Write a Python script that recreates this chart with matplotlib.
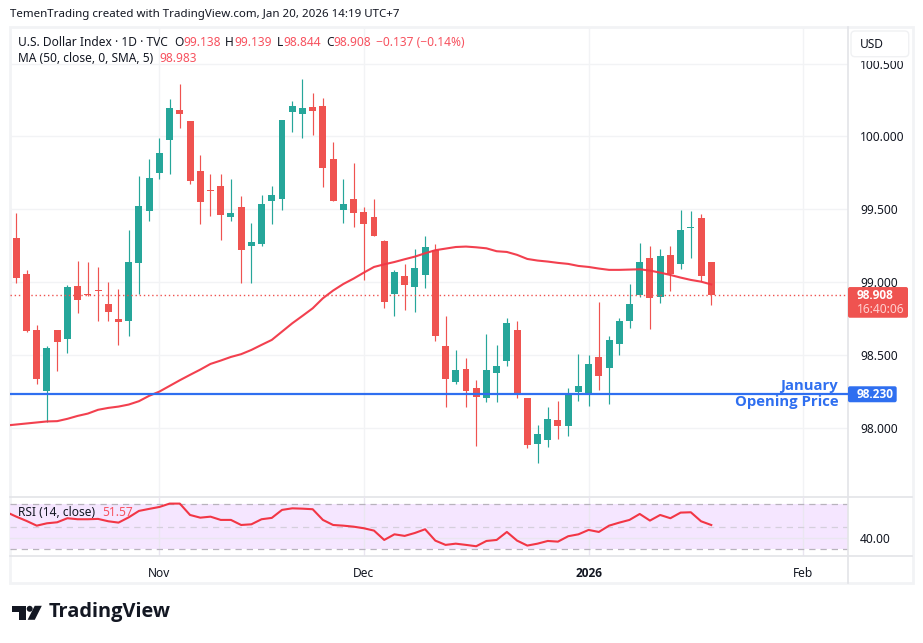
import matplotlib
matplotlib.use("Agg")
import matplotlib.pyplot as plt
import numpy as np
from matplotlib.lines import Line2D
from matplotlib.patches import Circle, FancyBboxPatch, Polygon, Rectangle
from matplotlib.transforms import IdentityTransform

plt.rcParams['font.family'] = ['Noto Sans', 'DejaVu Sans']

# daily candles, Oct 14 2025 - Jan 20 2026
opens = [99.302, 99.055, 98.671, 98.252, 98.671, 98.609, 98.973, 98.918, 98.945, 98.849,
         98.746, 98.732, 99.131, 99.488, 99.748, 99.975, 100.181, 100.105, 99.762, 99.632,
         99.659, 99.446, 99.515, 99.247, 99.261, 99.556, 99.570, 100.167, 100.153, 100.201,
         100.208, 99.844, 99.494, 99.570, 99.481, 99.446, 99.282, 98.918, 99.041, 98.966,
         99.048, 99.220, 98.561, 98.314, 98.403, 98.273, 98.204, 98.376, 98.458, 98.671,
         98.204, 97.888, 97.916, 98.053, 98.012, 98.245, 98.231, 98.485, 98.410, 98.575,
         98.732, 98.911, 99.165, 98.897, 99.186, 99.124, 99.371, 99.439, 99.138]
highs = [99.474, 99.083, 98.705, 98.561, 98.671, 98.980, 99.144, 99.137, 99.103, 99.000,
         98.952, 99.357, 99.728, 99.844, 99.989, 100.256, 100.359, 100.105, 99.872, 99.742,
         99.742, 99.707, 99.590, 99.405, 99.597, 99.659, 100.112, 100.243, 100.394, 100.297,
         100.263, 99.961, 99.707, 99.817, 99.515, 99.570, 99.288, 99.083, 99.124, 99.227,
         99.316, 99.261, 98.767, 98.533, 98.479, 98.328, 98.643, 98.568, 98.753, 98.732,
         98.204, 98.019, 98.142, 98.183, 98.273, 98.506, 98.499, 98.863, 98.630, 98.753,
         98.986, 99.268, 99.247, 99.227, 99.247, 99.494, 99.488, 99.467, 99.139]
lows = [98.993, 98.657, 98.300, 98.035, 98.389, 98.513, 98.787, 98.904, 98.732, 98.732,
        98.568, 98.630, 98.918, 99.419, 99.707, 99.742, 100.057, 99.673, 99.398, 99.453,
        99.288, 99.419, 98.993, 98.993, 99.247, 99.398, 99.494, 100.030, 99.989, 100.009,
        99.652, 99.556, 99.405, 99.378, 99.014, 99.316, 98.822, 98.767, 98.808, 98.794,
        98.959, 98.595, 98.142, 98.300, 98.142, 97.874, 98.176, 98.176, 98.424, 98.204,
        97.861, 97.758, 97.868, 97.923, 97.943, 98.183, 98.149, 98.259, 98.163, 98.499,
        98.684, 98.897, 98.678, 98.856, 98.938, 99.089, 99.165, 99.007, 98.844]
closes = [99.028, 98.664, 98.334, 98.547, 98.588, 98.966, 98.877, 98.909, 98.938, 98.794,
          98.726, 99.137, 99.522, 99.714, 99.886, 100.195, 100.153, 99.693, 99.549, 99.625,
          99.460, 99.474, 99.220, 99.275, 99.536, 99.597, 100.112, 100.208, 100.195, 100.174,
          99.783, 99.556, 99.536, 99.474, 99.398, 99.316, 98.863, 99.069, 98.980, 99.096,
          99.240, 98.630, 98.334, 98.396, 98.252, 98.211, 98.396, 98.424, 98.719, 98.231,
          97.881, 97.957, 98.060, 98.012, 98.231, 98.286, 98.437, 98.355, 98.602, 98.732,
          98.849, 99.137, 98.890, 99.179, 99.055, 99.357, 99.378, 99.041, 98.908]

# MA 50, first value belongs to the bar before the first visible candle
ma50 = [98.014, 98.021, 98.028, 98.035, 98.042, 98.044, 98.060, 98.080, 98.096, 98.122,
        98.135, 98.144, 98.158, 98.181, 98.218, 98.247, 98.286, 98.325, 98.362, 98.398,
        98.437, 98.460, 98.485, 98.504, 98.533, 98.568, 98.602, 98.659, 98.716, 98.767,
        98.819, 98.888, 98.941, 98.986, 99.023, 99.064, 99.103, 99.121, 99.137, 99.156,
        99.174, 99.197, 99.218, 99.229, 99.240, 99.243, 99.238, 99.231, 99.211, 99.206,
        99.186, 99.158, 99.147, 99.140, 99.131, 99.124, 99.110, 99.103, 99.092, 99.083,
        99.083, 99.085, 99.087, 99.078, 99.064, 99.048, 99.030, 99.014, 99.002, 98.983]

rsi14 = [63.2, 59.0, 55.2, 51.0, 53.1, 54.0, 57.6, 56.7, 56.7, 57.0,
         54.9, 53.7, 58.4, 64.1, 65.9, 67.6, 70.6, 70.6, 60.5, 58.1,
         59.0, 56.1, 56.1, 51.6, 52.2, 56.7, 57.9, 65.0, 66.4, 66.1,
         65.6, 56.1, 51.6, 51.0, 50.1, 48.7, 46.6, 38.3, 43.3, 41.9,
         44.5, 47.8, 37.7, 33.9, 35.0, 33.9, 32.7, 37.4, 38.3, 45.4,
         37.7, 33.3, 35.0, 37.4, 36.8, 41.6, 43.3, 47.2, 45.4, 51.0,
         53.7, 56.1, 61.4, 55.5, 60.5, 57.6, 62.6, 62.9, 54.9, 51.57]

price_ticks = [98.0, 98.5, 99.0, 99.5, 100.0, 100.5]
date_ticks = [14, 34, 56, 77]
date_labels = ['Nov', 'Dec', '2026', 'Feb']
january_open = 98.230
last_close = 98.908

UP = '#26A69A'
DOWN = '#EF5350'
MA_RED = '#F23645'
BLUE = '#2F6FF0'
TXT = '#131722'
GRID = '#F2F3F5'
EDGE = '#E3E4E8'
W, H = 923, 643


def rect(left, top, right, bottom):
    return [left / W, 1 - bottom / H, (right - left) / W, (bottom - top) / H]


def label(x, y, s, **kw):
    kw.setdefault('color', TXT)
    kw.setdefault('fontsize', 8.6)
    kw.setdefault('va', 'center')
    return fig.text(x / W, 1 - y / H, s, **kw)


fig = plt.figure(figsize=(W / 100, H / 100), dpi=100, facecolor='white')
ax = fig.add_axes(rect(10.3, 27, 847.7, 497.3))
ax2 = fig.add_axes(rect(10.3, 497.3, 847.7, 555.7))
xlim = (-0.587, 81.35)

x = np.arange(len(closes))
o, h, l, c = map(np.array, (opens, highs, lows, closes))
colors = [UP if cc >= oo else DOWN for oo, cc in zip(o, c)]

ax.vlines(x, l, h, colors=colors, lw=0.85, zorder=3)
ax.bar(x, np.abs(c - o), bottom=np.minimum(o, c), width=0.68, color=colors, linewidth=0, zorder=3)
ax.plot(np.arange(-1, len(closes)), ma50, color=MA_RED, lw=1.5, alpha=0.95, zorder=4)
ax.axhline(january_open, color=BLUE, lw=1.6, zorder=5)
ax.axhline(last_close, color=DOWN, lw=1.0, ls=(0, (1, 2)), zorder=5)

ax.set_xlim(xlim)
ax.set_ylim(97.521, 100.751)
ax.yaxis.tick_right()
ax.set_yticks(price_ticks)
ax.set_yticklabels(['%.3f' % t for t in price_ticks])
ax.set_xticks(date_ticks)
ax.tick_params(axis='x', labelbottom=False, length=0)
ax.tick_params(axis='y', length=0, pad=9, labelsize=8.6, labelcolor=TXT)
ax.grid(True, color=GRID, lw=1.0)
ax.set_axisbelow(True)

ax.text(80.43, 98.285, 'January', color=BLUE, fontsize=10.7, fontweight='bold', family='Open Sans',
        ha='right', va='center', zorder=6)
ax.text(80.43, 98.173, 'Opening Price', color=BLUE, fontsize=10.7, fontweight='bold', family='Open Sans',
        ha='right', va='center', zorder=6)

# RSI pane
ax2.axhspan(30, 70, color='#F5E6FF', lw=0, zorder=0)
for level, col in ((70, '#B8B3BD'), (50, '#D5CFDC'), (30, '#B8B3BD')):
    ax2.axhline(level, color=col, lw=0.9, ls=(0, (5, 4)), zorder=1)
ax2.plot(np.arange(-1, len(closes)), rsi14, color=MA_RED, lw=1.5, zorder=3)
ax2.set_xlim(xlim)
ax2.set_ylim(24.3, 76.2)
ax2.yaxis.tick_right()
ax2.set_yticks([40])
ax2.set_yticklabels(['40.00'])
ax2.set_xticks(date_ticks)
ax2.set_xticklabels(date_labels)
ax2.tick_params(axis='x', length=0, pad=8, labelsize=8.6, labelcolor=TXT)
ax2.tick_params(axis='y', length=0, pad=9, labelsize=8.6, labelcolor=TXT)
tick_2026 = ax2.get_xticklabels()[2]
tick_2026.set_fontfamily('Open Sans')
tick_2026.set_fontweight('bold')
ax2.grid(True, color='#EAE6F0', lw=1.0)
ax2.set_axisbelow(True)

for a in (ax, ax2):
    a.patch.set_alpha(0)
    for side in ('left', 'top'):
        a.spines[side].set_visible(False)
    for side in ('right', 'bottom'):
        a.spines[side].set_color(EDGE)
        a.spines[side].set_linewidth(1.2)


# frame, chips and logo sit in pixel space
def px(xp, yp):
    return (xp, H - yp)


def box(left, top, right, bottom, face, edge='none', rounding=2):
    p = FancyBboxPatch(px(left, bottom), right - left, bottom - top,
                       boxstyle='round,pad=0,rounding_size=%g' % rounding,
                       facecolor=face, edgecolor=edge, lw=1, transform=IdentityTransform(), zorder=10)
    fig.add_artist(p)


fig.add_artist(Rectangle(px(10, 583), 903, 556, fill=False, edgecolor=GRID, lw=2,
                         transform=IdentityTransform(), zorder=0))
for y_sep in (497.3, 555.7):
    fig.add_artist(Line2D([847.7, 912], [H - y_sep, H - y_sep], color=EDGE, lw=1.2,
                          transform=IdentityTransform()))
fig.add_artist(Line2D([847.7, 847.7], [H - 583, H - 555.7], color=EDGE, lw=1.2,
                      transform=IdentityTransform()))

# USD button hides the top of the 100.500 label
fig.add_artist(Rectangle(px(849, 60.7), 61, 32, facecolor='white', edgecolor='none',
                         transform=IdentityTransform(), zorder=9))
box(851, 31, 908.7, 56.7, 'white', edge='#F0F1F3', rounding=4)
label(860, 44.5, 'USD', zorder=11)

y_close = H - ax.transData.transform((0, last_close))[1]
y_jan = H - ax.transData.transform((0, january_open))[1]
box(848, y_close - 8.3, 908, y_close + 22.4, DOWN)
label(857, y_close, '98.908', color='white', fontfamily='Open Sans', fontweight='bold', fontsize=8.6, zorder=11)
label(857, y_close + 14, '16:40:06', color='#FFD0CF', zorder=11)
box(848, y_jan - 7.8, 896.7, y_jan + 8.2, BLUE)
label(857, y_jan, '98.230', color='white', fontfamily='Open Sans', fontweight='bold', fontsize=8.6, zorder=11)

label(10, 15, 'TemenTrading created with TradingView.com, Jan 20, 2026 14:19 UTC+7', fontsize=8.3)
label(18, 42, 'U.S. Dollar Index · 1D · TVC', zorder=11)
RED_VAL = '#F7525F'
for xp, s, col in ((174, 'O', TXT), (183, '99.138', RED_VAL), (225, 'H', TXT), (234, '99.139', RED_VAL),
                   (276.7, 'L', TXT), (283, '98.844', RED_VAL), (326, 'C', TXT), (333, '98.908', RED_VAL),
                   (376, '\u22120.137 (\u22120.14%)', RED_VAL)):
    label(xp, 42, s, color=col)
label(18, 58.7, 'MA (50, close, 0, SMA, 5)')
label(159.7, 58.7, '98.983', color=RED_VAL)
label(18, 512.7, 'RSI (14, close)')
label(101.7, 512.7, '51.57', color=RED_VAL)

# TradingView logo
LOGO = '#131722'
T_SHAPE = [(12.3, 605.8), (25.7, 605.8), (25.7, 619.8), (18.8, 619.8), (18.8, 612.2), (12.3, 612.2)]
SLASH = [(34.7, 605.8), (41.8, 605.8), (34.8, 619.8), (27.6, 619.8)]
fig.add_artist(Polygon([px(*p) for p in T_SHAPE], closed=True, color=LOGO, lw=0, transform=IdentityTransform()))
fig.add_artist(Polygon([px(*p) for p in SLASH], closed=True, color=LOGO, lw=0, transform=IdentityTransform()))
fig.add_artist(Circle(px(29.7, 608.8), 3.0, color=LOGO, lw=0, transform=IdentityTransform()))
label(48.5, 612.5, 'TradingView', fontsize=14.4, fontweight='bold', fontfamily='Open Sans', color=LOGO)

fig.savefig('out.png', dpi=100, facecolor='white')
